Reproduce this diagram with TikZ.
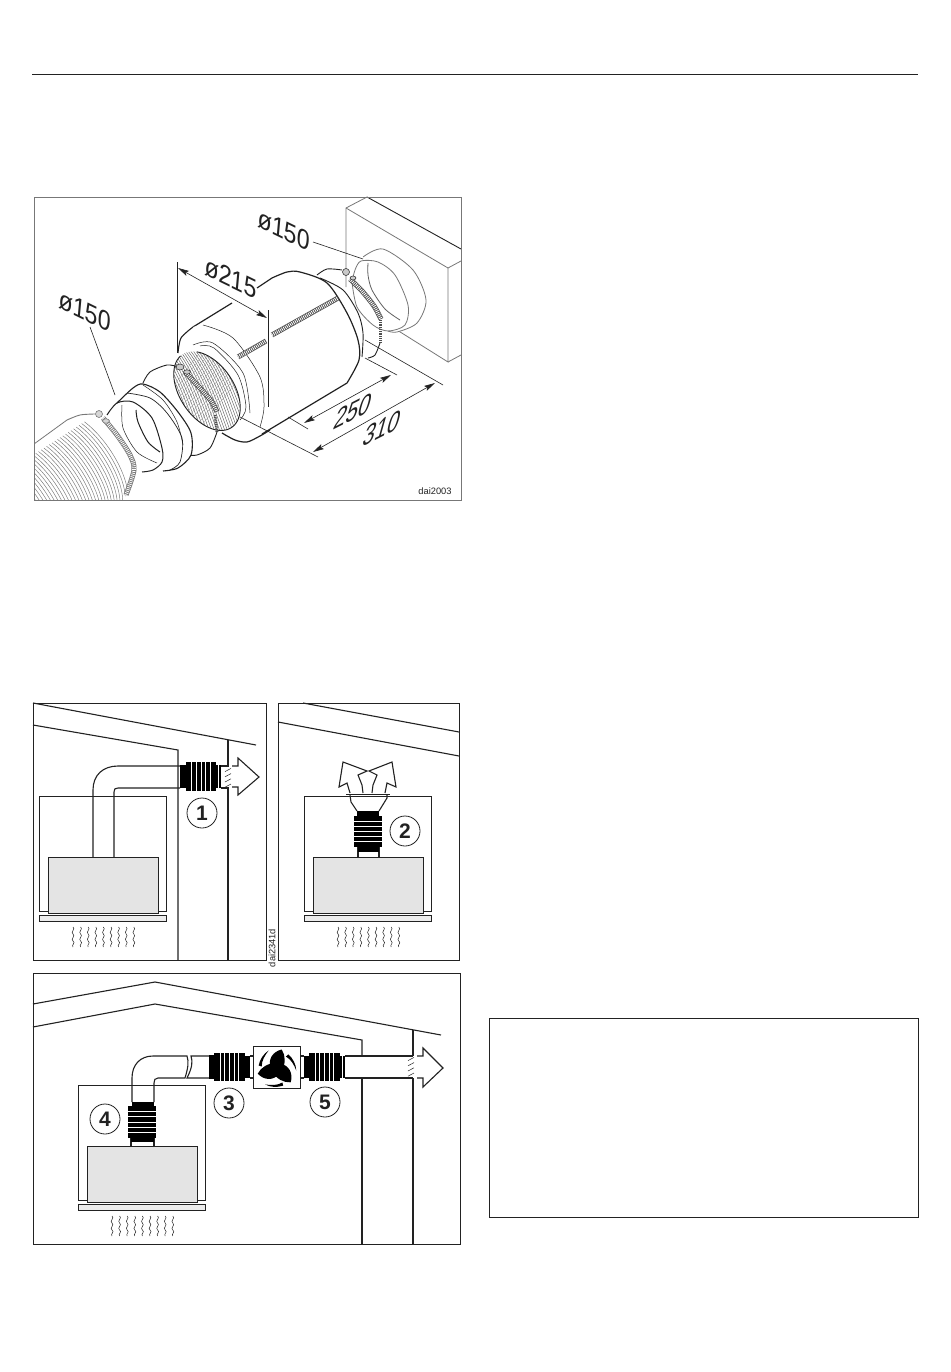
\documentclass[tikz,border=0pt]{standalone}
\usepackage{fontspec}
\setmainfont{Liberation Sans}
\usetikzlibrary{arrows.meta}
\definecolor{ink}{HTML}{222222}
\definecolor{boxgray}{HTML}{E4E4E4}
\definecolor{soft}{HTML}{777777}
\newcommand\Earc[8][]{\draw[#1] plot[domain=#7:#8,samples=60] ({#2+#4*cos(\x)*cos(#6)-#5*sin(\x)*sin(#6)},{#3+#4*cos(\x)*sin(#6)+#5*sin(\x)*cos(#6)});}
\newcommand\Waves[2]{\foreach \k in {0,...,8}{\draw[ink,line width=.5pt] ({#1+7.6*\k},#2) .. controls ({#1+7.6*\k+3},{#2+2}) and ({#1+7.6*\k-3},{#2+5}) .. ({#1+7.6*\k},{#2+7}) .. controls ({#1+7.6*\k+3},{#2+9}) and ({#1+7.6*\k-3},{#2+12}) .. ({#1+7.6*\k},{#2+14}) .. controls ({#1+7.6*\k+3},{#2+16}) and ({#1+7.6*\k-2},{#2+18}) .. ({#1+7.6*\k},{#2+20});}}
\newcommand\Cab[2]{% x of cabinet left, y of cabinet top
 \draw[ink,line width=.8pt] (#1,#2) rectangle ({#1+127},{#2+115});
 \draw[ink,line width=.8pt,fill=boxgray] ({#1+9},{#2+61}) rectangle ({#1+119},{#2+117});
 \draw[ink,line width=.8pt,fill=boxgray!70] (#1,{#2+119}) rectangle ({#1+127},{#2+125});
 \Waves{#1+34}{#2+131}}
\newcommand\HFlex[4]{% x1 x2 ytop ybot
 \fill[black] (#1,#3) rectangle (#2,#4);
 \foreach \k in {1,...,5}{\draw[white,line width=.9pt] ({#1+(#2-#1)*(\k+.3)/6.6},#3) -- ({#1+(#2-#1)*(\k+.3)/6.6},#4);}}
\newcommand\VFlex[4]{% x1 x2 ytop ybot
 \fill[black] (#1,#3) rectangle (#2,#4);
 \foreach \k in {1,...,5}{\draw[white,line width=.9pt] (#1,{#3+(#4-#3)*\k/6}) -- (#2,{#3+(#4-#3)*\k/6});}}
\newcommand\WallHatch[2]{\foreach \k in {0,...,3}{\draw[ink,line width=.5pt] ({#1-3},{#2+\k*5.2+1.6}) -- ({#1+3},{#2+\k*5.2-1.6});}}
\newcommand\Strap[1]{\draw[ink!80,line width=5pt] #1;\draw[white,line width=3.6pt,dash pattern=on .8pt off 1.1pt] #1;}
\tikzset{
 thinl/.style={ink,line width=.5pt},
 duct/.style={ink,line width=1.1pt},
 dimen/.style={ink,line width=.6pt},
 dimarrow/.style={ink,line width=.6pt,{Stealth[length=11pt,width=5.5pt,inset=2pt]}-{Stealth[length=11pt,width=5.5pt,inset=2pt]}},
 bigtext/.style={font=\fontsize{24}{24}\selectfont,text=ink,inner sep=0pt},
 fallslant/.style={bigtext,transform shape,cm={.95,-.46,.1,1.12,(0,0)}},
 riseslant/.style={bigtext,transform shape,cm={.89,.45,.35,1.25,(0,0)}},
 smalltext/.style={font=\fontsize{9.3}{10}\selectfont,text=ink,inner sep=0pt},
 numcircle/.style={circle,draw=ink,line width=.8pt,fill=white,minimum size=30pt,inner sep=0pt,font=\fontsize{21}{21}\selectfont\bfseries,text=ink},
 panel/.style={ink,line width=1pt},
}
\begin{document}
\begin{tikzpicture}[x=1pt,y=-1pt]
\useasboundingbox (0,0) rectangle (950,1372);
\fill[white] (0,0) rectangle (950,1372);
\draw[ink,line width=1pt] (32,75) -- (918,75);
\draw[ink,line width=.9pt] (489,1018) rectangle (918,1217);
%% ---------- top panel
\begin{scope}
\clip (34,197) rectangle (461,500);
% wall box
\draw[soft,line width=.8pt] (346,287) -- (346,208) -- (367,197);
\draw[soft,line width=.8pt] (346,208) -- (448,268) -- (448,362) -- (397,330);
\draw[ink,line width=.9pt] (367,197) -- (461,249);
\draw[soft,line width=.8pt] (448,268) -- (461,261);
\draw[soft,line width=.8pt] (448,362) -- (461,355);
% duct on box
\fill[white] plot[smooth cycle] coordinates {(355,270) (367,253) (383,249) (413,270) (426,300) (417,323) (397,332) (385,330) (365,315)};
\draw[soft,line width=.8pt] plot[smooth] coordinates {(363,257) (383,249) (413,270) (426,300) (417,323) (397,332) (388,331)};
\draw[soft,line width=.8pt] plot[smooth] coordinates {(352,282) (355,270) (361,261) (378,262) (395,275) (408,305) (405,325) (388,331) (373,325) (357,307) (352,282)};
\draw[soft!80!black,line width=.8pt] plot[smooth] coordinates {(368,263) (368,275) (372,290) (385,309) (400,320)};
% rear clamp
\draw[ink,line width=.9pt] plot[smooth] coordinates {(317,275) (327,269) (342,270)};
\Strap{plot[smooth] coordinates {(350,279) (362,291) (374,306) (381,319)}}
\draw[ink!80,line width=3pt,dash pattern=on 1pt off .8pt] (380,320) -- (380,343);
\draw[ink,line width=.9pt] plot[smooth] coordinates {(380,343) (375,355) (368,358)};
\draw[ink,fill=soft!40,line width=.5pt] (346,272) circle (3.5);
\draw[ink,fill=soft!40,line width=.5pt] (353,278) ellipse (3 and 2);
% cylinder body
\fill[white] (193,327) -- (272,279) -- (290,272) -- (320,277) -- (348,305) -- (362,345) -- (347,383) -- (262,434) -- (222,430) -- cycle;
\draw[ink,line width=1.2pt] (193,327) -- (232,303);
\draw[ink,line width=1.2pt] (257,288) -- plot[smooth] coordinates {(272,278) (287,272) (300,272) (327,283) (347,313) (358,340) (359,360) (347,383)} -- (262,434);
\draw[ink,line width=.9pt] plot[smooth] coordinates {(320,278) (343,290) (358,313) (363,333) (362,357)};
% flange
\fill[white] plot[smooth cycle] coordinates {(178,353) (193,327) (225,335) (265,385) (268,410) (263,430) (245,441) (222,433) (195,395)};
\draw[thinl] plot[smooth] coordinates {(203,325) (233,338) (260,377) (264,407) (260,427)};
\draw[ink,line width=1.1pt] plot[smooth] coordinates {(193,327) (181,338) (178,353)};
\draw[ink,line width=1.2pt] plot[smooth] coordinates {(222,433) (235,440) (247,442) (260,436) (270,430)};
\draw[thinl] plot[smooth] coordinates {(193,345) (213,343) (243,373) (250,413)};
\draw[thinl] plot[smooth] coordinates {(200,346) (214,348) (238,375) (246,407) (240,420)};
% band on cylinder
\Strap{(272,335) -- (338,298)}
\Strap{(238,357) -- (266,341)}
% mesh
\begin{scope}
\clip plot[domain=0:360,samples=60] ({207+44*cos(\x)*cos(56)-27*sin(\x)*sin(56)},{391+44*cos(\x)*sin(56)+27*sin(\x)*cos(56)});
\fill[white] (160,340) rectangle (250,440);
\foreach \k in {0,2.6,...,130}{\draw[ink!70,line width=.45pt] ({90+\k},340) .. controls ({115+\k},365) and ({125+\k},400) .. ({140+\k},440);}
\foreach \k in {0,5,...,60}{\draw[soft!70,line width=.3pt] ({210+\k},340) -- ({130+\k},440);}
\end{scope}
\Earc[ink,line width=.9pt]{207}{391}{44}{27}{56}{-150}{175}
% front clamp
\draw[ink,line width=.9pt] plot[smooth] coordinates {(143,383) (150,372) (167,365) (178,367)};
\Strap{plot[smooth] coordinates {(185,372) (200,388) (212,402) (217,412)}}
\draw[ink!80,line width=3pt,dash pattern=on 1pt off .8pt] (215,415) -- (217,432);
\draw[ink,line width=.9pt] plot[smooth] coordinates {(217,432) (210,448) (197,455) (188,455)};
\draw[ink,fill=soft!40,line width=.5pt] (180,367) ellipse (4 and 3);
\draw[ink,fill=soft!40,line width=.5pt] (187,372) ellipse (3.5 and 2.2);
% collar
\fill[white] plot[smooth cycle] coordinates {(107,415) (117,403) (133,388) (143,384) (160,392) (178,412) (191,433) (191,455) (178,468) (163,471) (142,472) (125,440)};
\draw[ink,line width=1.1pt] plot[smooth] coordinates {(117,403) (133,388) (143,384) (160,392) (178,412) (191,433) (191,455) (178,468) (163,471)};
\draw[ink,line width=1pt] plot[smooth] coordinates {(107,415) (117,403) (133,402) (152,418) (162,448) (162,462) (153,470) (142,472)};
\draw[ink,line width=.7pt] plot[smooth] coordinates {(127,393) (150,398) (167,413) (182,438) (180,462) (170,470)};
\draw[thinl] plot[smooth] coordinates {(143,385) (163,400) (177,422) (183,445)};
\draw[ink,line width=1pt] plot[smooth] coordinates {(136,410) (138,422) (148,442) (160,452)};
\draw[thinl] plot[smooth] coordinates {(122,405) (123,428) (137,452) (157,463)};
% hose
\fill[white] (34,444) -- (67,420) -- (97,415) -- (134,462) -- (124,500) -- (34,500) -- cycle;
\begin{scope}
\clip (34,443) -- (67,420) -- (97,413) -- (135,462) -- (124,500) -- (34,500) -- cycle;
\foreach \k in {0,...,36}{
 \Earc[soft,line width=.45pt]{90-\k*2.7}{463+\k*1.75}{58}{24}{56}{-130}{55}}
\end{scope}
\draw[soft,line width=.8pt] (34,444) -- (67,420);
\draw[soft,line width=.9pt] plot[smooth] coordinates {(67,420) (80,415) (95,414)};
\draw[soft,line width=5pt] plot[smooth] coordinates {(103,418) (117,435) (130,455) (134,470) (126,495)};
\draw[white,line width=3.6pt,dash pattern=on .8pt off 1.1pt] plot[smooth] coordinates {(103,418) (117,435) (130,455) (134,470) (126,495)};
\draw[soft,fill=soft!30,line width=.6pt] (99,414) circle (3.5);
\draw[soft,fill=soft!30,line width=.6pt] (106,421) ellipse (3.5 and 2.2);
\end{scope}
% dimensions
\coordinate (l150a) at (90,327); \coordinate (l150b) at (115,395);
\draw[dimen] (l150a) -- (l150b);
\coordinate (r150a) at (313,242); \coordinate (r150b) at (363,259);
\draw[dimen] (r150a) -- (r150b);
\coordinate (d215a) at (178,268); \coordinate (d215b) at (267,318);
\draw[dimen] (177,262) -- (177,353);
\draw[dimen] (268,310) -- (268,407);
\draw[dimarrow] (d215a) -- (d215b);
\coordinate (d250a) at (304,423); \coordinate (d250b) at (391,375);
\draw[dimen] (288,417) -- (308,429);
\draw[dimen] (365,358) -- (397,375);
\draw[dimarrow] (d250a) -- (d250b);
\coordinate (d310a) at (313,452); \coordinate (d310b) at (435,383);
\draw[dimen] (240,417) -- (318,457);
\draw[dimen] (365,340) -- (443,385);
\draw[dimarrow] (d310a) -- (d310b);
\node[fallslant] (tl150) at (85,311) {ø150};
\node[fallslant] (tr150) at (284,230) {ø150};
\node[fallslant] (t215) at (231,278) {ø215};
\node[riseslant] (t250) at (353,411) {250};
\node[riseslant] (t310) at (382,428) {310};
\node[smalltext] (tdai) at (435,491) {dai2003};
\draw[soft,line width=.9pt] (34,197) rectangle (461,500);
%% ---------- panel A
\draw[panel] (33,703) rectangle (266,960);
\draw[duct] (33,703) -- (256,745);
\draw[duct] (33,725) -- (178,750) -- (178,960);
\draw[duct] (228,740) -- (228,765);
\draw[duct] (228,788) -- (228,960);
\Cab{39}{796}
\draw[duct] (93,857) -- (93,790) .. controls (93,775) and (103,766) .. (118,766) -- (180,766);
\draw[duct] (114,857) -- (114,792) .. controls (114,789) and (115,788) .. (118,788) -- (180,788);
\fill[black] (180,765) rectangle (186,788);
\HFlex{186}{216}{762}{791}
\fill[black] (216,765) rectangle (221,788);
\draw[white,line width=.8pt] (218.5,765) -- (218.5,788);
\draw[duct] (221,766) -- (229,766) (221,788) -- (229,788);
\WallHatch{228}{770}
\draw[duct] (232,766) -- (238,766) -- (238,758) -- (259,777) -- (238,795) -- (238,787) -- (232,787);
\node[numcircle] (n1) at (202,813) {1};
\node[smalltext,rotate=90] (tdaib) at (272,948) {dai2341d};
%% ---------- panel B
\draw[panel] (278,703) rectangle (459,960);
\draw[duct] (303,703) -- (459,732);
\draw[duct] (278,722) -- (459,756);
\Cab{304}{796}
\draw[duct,fill=white] (358,857) -- (358,848) -- (379,848) -- (379,857);
\fill[black] (358,846) rectangle (379,852);
\VFlex{354}{382}{816}{847}
\fill[black] (357,811) rectangle (379,816);
\draw[duct] (357,811) -- (351,802) -- (350,795) (379,811) -- (387,798) -- (387,795);
\draw[ink,line width=.9pt] (346,794) -- (390,794);
\draw[duct] (350,793) -- (347,783) -- (339,787) -- (343,762) -- (367,771) -- (358,775) -- (362,785) -- (363,793);
\draw[duct] (372,793) -- (373,785) -- (377,775) -- (369,771) -- (392,762) -- (396,787) -- (387,783) -- (385,793);
\node[numcircle] (n2) at (405,831) {2};
%% ---------- panel C
\draw[panel] (33,973) rectangle (460,1244);
\draw[duct] (33,1004) -- (155,982) -- (441,1035);
\draw[duct] (33,1027) -- (155,1004) -- (362,1040) -- (362,1056);
\draw[duct] (362,1078) -- (362,1244);
\draw[duct] (413,1030) -- (413,1056);
\draw[duct] (413,1078) -- (413,1244);
\Cab{78}{1085}
\draw[duct] (131,1147) -- (131,1138) (154,1147) -- (154,1138);
\draw[duct] (132,1102) -- (132,1078) .. controls (132,1065) and (140,1056) .. (153,1056) -- (187,1056) .. controls (189,1062) and (188,1068) .. (185,1078) -- (158,1078) .. controls (155,1078) and (154,1080) .. (154,1083) -- (154,1102);
\draw[duct] (210,1056) -- (191,1056) .. controls (193,1062) and (192,1068) .. (187,1078) -- (210,1078);
\fill[black] (209,1055) rectangle (214,1079);
\HFlex{214}{245}{1053}{1081}
\fill[black] (245,1056) rectangle (250,1078);
\draw[duct] (250,1056) -- (253,1056) (250,1078) -- (253,1078);
\draw[ink,line width=.9pt,fill=white] (253,1046) rectangle (300,1088);
\begin{scope}[shift={(276.7,1068.5)}]
\foreach \r in {0,120,240}{
 \begin{scope}[rotate=\r]
 \fill[black] (-6,-1) .. controls (-9,-9) and (-4,-17) .. (5,-19) .. controls (9,-13) and (9,-5) .. (5,3) -- cycle;
 \fill[black] (-18,-3) .. controls (-17,-9) and (-13,-15) .. (-8,-18) .. controls (-12,-13) and (-15,-8) .. (-15,-2) -- cycle;
 \end{scope}}
\fill[black] (0,0) circle (5);
\end{scope}
\draw[duct] (300,1056) -- (304,1056) (300,1078) -- (304,1078);
\fill[black] (304,1056) rectangle (309,1078);
\HFlex{309}{340}{1053}{1081}
\fill[black] (340,1056) rectangle (345,1078);
\draw[white,line width=.8pt] (342,1056) -- (342,1078);
\draw[duct] (345,1056) -- (413,1056) (345,1078) -- (413,1078);
\WallHatch{411}{1059}
\draw[duct] (417,1056) -- (423,1056) -- (423,1048) -- (443,1068) -- (423,1087) -- (423,1078) -- (417,1078);
\fill[black] (132,1102) rectangle (154,1106);
\VFlex{128}{156}{1106}{1138}
\fill[black] (131,1138) rectangle (154,1142);
\node[numcircle] (n3) at (229,1103) {3};
\node[numcircle] (n4) at (105,1119) {4};
\node[numcircle] (n5) at (325,1102) {5};
\end{tikzpicture}
\end{document}
